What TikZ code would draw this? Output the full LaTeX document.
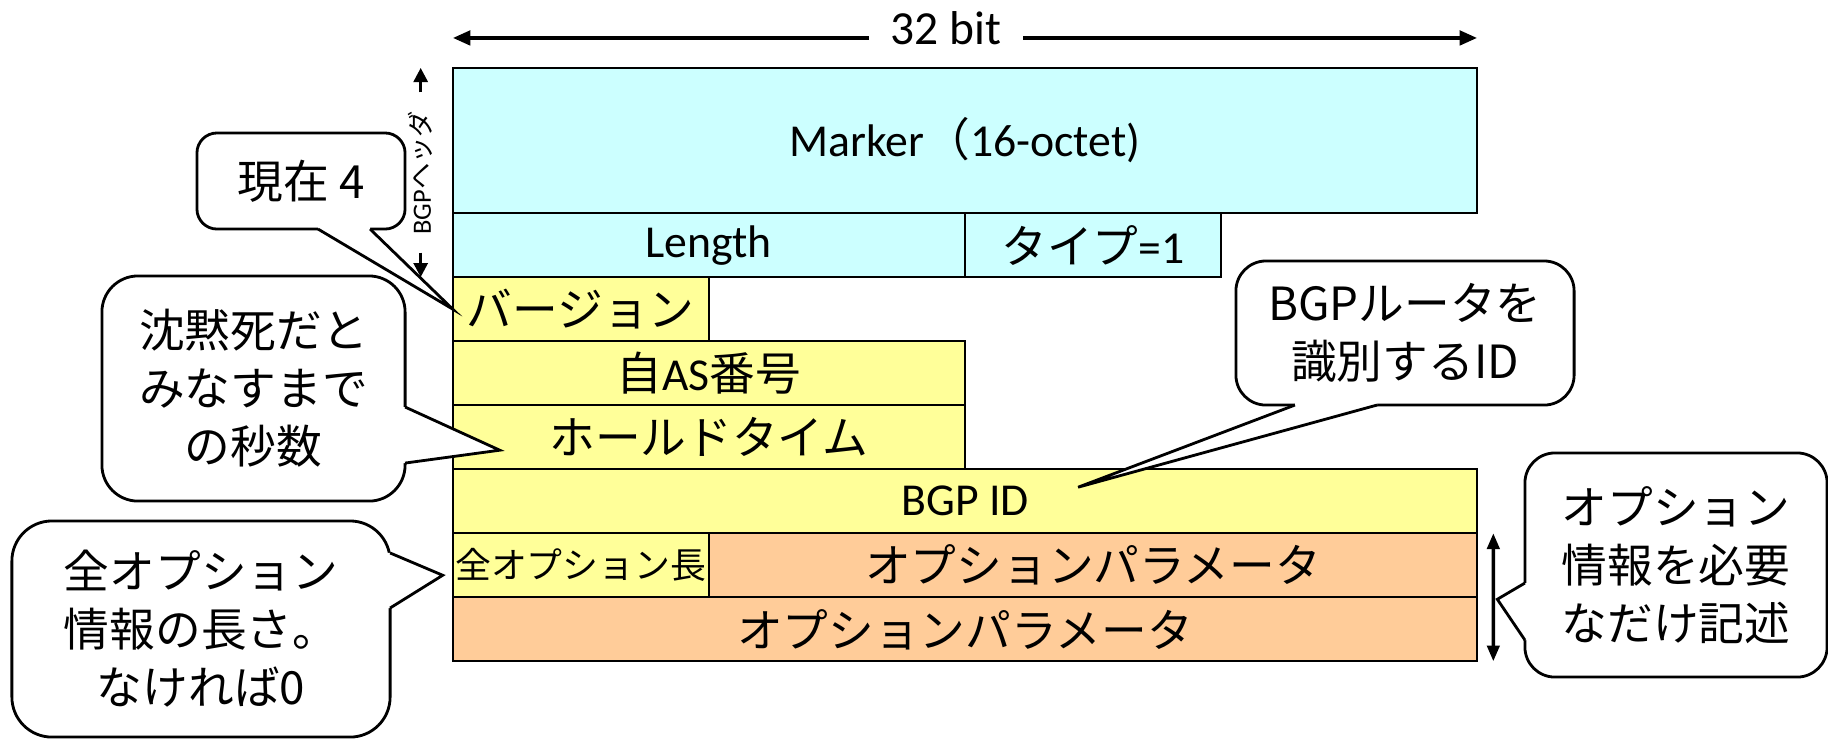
\documentclass[tikz,border=0pt]{standalone}
\usepackage{fontspec}
\setmainfont{Carlito}
\newfontfamily\jp{Noto Sans CJK JP}
\usepackage{tikz}
\usetikzlibrary{arrows.meta,positioning,calc}

\definecolor{hdrcyan}{HTML}{CCFFFF}
\definecolor{bodyyellow}{HTML}{FFFF99}
\definecolor{optorange}{HTML}{FFCC99}

\begin{document}
\begin{tikzpicture}[
  x=0.01cm, y=-0.01cm,
  font=\fontsize{13}{16.5}\selectfont,
  field/.style={draw, line width=0.6pt, inner sep=0pt, outer sep=0pt, minimum height=0.64cm},
  hdr/.style={field, fill=hdrcyan},
  body/.style={field, fill=bodyyellow},
  opt/.style={field, fill=optorange},
  jptext/.style={font=\fontsize{13}{16.5}\selectfont\jp},
  note/.style={draw, line width=0.8pt, fill=white, rounded corners=0.3cm,
    align=center, inner sep=0pt, outer sep=0pt, jptext},
  tail/.style={line width=0.8pt},
  bitarrow/.style={-{Triangle[length=5pt, width=4pt]}, line width=1.2pt},
  hdrarrow/.style={-{Triangle[length=4pt, width=4pt]}, line width=0.8pt},
  optarrow/.style={{Triangle[length=4.5pt, width=3.5pt]}-{Triangle[length=4.5pt, width=3.5pt]}, line width=1pt}
]
\useasboundingbox (0,0) rectangle (1828,738);

% header
\node[hdr, minimum width=10.24cm, minimum height=1.45cm] (marker) at (965,140.5) {Marker{\jp （}16-octet)};
\node[hdr, minimum width=5.12cm, below=0pt of marker.south west, anchor=north west] (length) {Length};
\node[hdr, minimum width=2.56cm, right=0pt of length] (type) {{\jp タイプ}=1};

% open message
\node[body, jptext, minimum width=2.56cm, below=0pt of length.south west, anchor=north west] (version) {バージョン};
\node[body, minimum width=5.12cm, below=0pt of version.south west, anchor=north west] (myas) {{\jp 自}AS{\jp 番号}};
\node[body, jptext, minimum width=5.12cm, below=0pt of myas] (hold) {ホールドタイム};
\node[body, minimum width=10.24cm, below=0pt of hold.south west, anchor=north west] (bgpid) {BGP ID};
\node[body, minimum width=2.56cm, font=\fontsize{10.2}{12}\selectfont\jp, below=0pt of bgpid.south west, anchor=north west] (optlen) {全オプション長};
\node[opt, jptext, minimum width=7.68cm, right=0pt of optlen] (optparam) {オプションパラメータ};
\node[opt, jptext, minimum width=10.24cm, below=0pt of optlen.south west, anchor=north west] (optmore) {オプションパラメータ};

% 32 bit
\node[inner xsep=6pt, inner ysep=0pt, font=\fontsize{13.5}{16}\selectfont] (bits) at (946,28) {32 bit};
\coordinate (bitl) at ([yshift=0.3cm]marker.north west);
\coordinate (bitr) at ([yshift=0.3cm]marker.north east);
\draw[bitarrow] (bits.west |- bitl) -- (bitl);
\draw[bitarrow] (bits.east |- bitr) -- (bitr);

% callouts
\node[note, rounded corners=0.36cm, minimum width=3.03cm, minimum height=2.25cm] (holdnote) at (253.5,388.5) {沈黙死だと\\みなすまで\\の秒数};
\coordinate (holdtip) at ([xshift=0.47cm, yshift=0.19cm]hold.south west);
\fill[white] ([xshift=-0.05cm, yshift=-0.185cm]holdnote.east) -- ([yshift=-0.185cm]holdnote.east) -- (holdtip)
  -- ([yshift=-0.745cm]holdnote.east) -- ([xshift=-0.05cm, yshift=-0.745cm]holdnote.east) -- cycle;
\draw[tail] ([yshift=-0.185cm]holdnote.east) -- (holdtip) -- ([yshift=-0.745cm]holdnote.east);

\node[note, rounded corners=0.2cm, minimum width=2.08cm, minimum height=0.96cm] (vernote) at (301,181) {現在 4};
\fill[white] ([xshift=0.17cm, yshift=0.05cm]vernote.south) -- ([xshift=0.17cm]vernote.south) -- (version.west)
  -- ([xshift=0.69cm]vernote.south) -- ([xshift=0.69cm, yshift=0.05cm]vernote.south) -- cycle;
\draw[tail] ([xshift=0.17cm]vernote.south) -- (version.west) -- ([xshift=0.69cm]vernote.south);

\node[note, minimum width=3.38cm, minimum height=1.44cm] (idnote) at (1405,333) {BGP{\jp ルータを}\\{\jp 識別する}ID};
\coordinate (idtip) at ([xshift=1.13cm, yshift=0.14cm]bgpid.center);
\fill[white] ([xshift=-1.10cm, yshift=0.05cm]idnote.south) -- ([xshift=-1.10cm]idnote.south) -- (idtip)
  -- ([xshift=-0.28cm]idnote.south) -- ([xshift=-0.28cm, yshift=0.05cm]idnote.south) -- cycle;
\draw[tail] ([xshift=-1.10cm]idnote.south) -- (idtip) -- ([xshift=-0.28cm]idnote.south);

\node[note, minimum width=3.02cm, minimum height=2.24cm] (optnote) at (1676,565) {オプション\\情報を必要\\なだけ記述};
\coordinate (opttip) at ([xshift=0.20cm, yshift=-0.02cm]optparam.south east);
\fill[white] ([xshift=0.05cm, yshift=-0.18cm]optnote.west) -- ([yshift=-0.18cm]optnote.west) -- (opttip)
  -- ([yshift=-0.75cm]optnote.west) -- ([xshift=0.05cm, yshift=-0.75cm]optnote.west) -- cycle;
\draw[tail] ([yshift=-0.18cm]optnote.west) -- (opttip) -- ([yshift=-0.75cm]optnote.west);

\node[note, rounded corners=0.4cm, minimum width=3.78cm, minimum height=2.16cm] (lennote) at (201,629) {全オプション\\情報の長さ。\\なければ0};
\coordinate (lentip) at ([xshift=-0.10cm, yshift=-0.10cm]optlen.west);
\fill[white] ([xshift=-0.05cm, yshift=0.76cm]lennote.east) -- ([yshift=0.76cm]lennote.east) -- (lentip)
  -- ([yshift=0.21cm]lennote.east) -- ([xshift=-0.05cm, yshift=0.21cm]lennote.east) -- cycle;
\draw[tail] ([yshift=0.76cm]lennote.east) -- (lentip) -- ([yshift=0.21cm]lennote.east);

% side arrows
\coordinate (hdrtop) at ([xshift=-0.32cm]marker.north west);
\coordinate (hdrbot) at ([xshift=-0.32cm]length.south west);
\node[rotate=90, inner xsep=5pt, inner ysep=1pt, font=\fontsize{7.5}{9}\selectfont] (hdrlabel) at ($(hdrtop)!0.5!(hdrbot)$) {BGP{\jp ヘッダ}};
\draw[hdrarrow] (hdrlabel.east) -- (hdrtop);
\draw[hdrarrow] (hdrlabel.west) -- (hdrbot);

\coordinate (opttop) at ([xshift=0.16cm]optparam.north east);
\coordinate (optbot) at ([xshift=0.16cm]optmore.south east);
\draw[optarrow] (opttop) -- (optbot);

\end{tikzpicture}
\end{document}
